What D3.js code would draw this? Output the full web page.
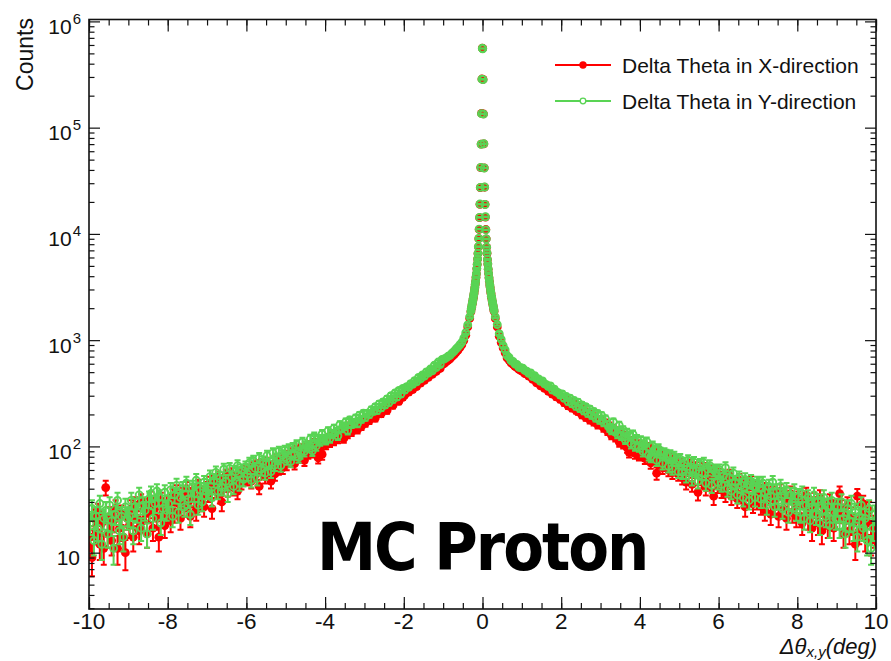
<!DOCTYPE html>
<html><head><meta charset="utf-8">
<script src="https://cdn.jsdelivr.net/npm/d3@7"></script>
<style>body{margin:0;background:#fff;} svg{display:block;}</style>
</head><body>
<svg id="chart" width="891" height="661"></svg>
<script>
// ---- binning (categories) ----
const xMin = -10, xMax = 10;
const tailBinWidth = 0.05, coreBinWidth = 0.01, coreLimit = 0.3;
const yMin = 2.95, yMax = 1.042e6;

const seriesNames = ["Delta Theta in X-direction", "Delta Theta in Y-direction"];
const seriesColors = ["#ff0000", "#59d454"];

// ---- Delta Theta in X-direction (red) ----
const xLeftTail = [
 14, 9, 21, 16, 24, 12, 19, 11, 41, 15, 22, 13, 20, 26, 11, 17, 23, 14, 10, 21,
 18, 26, 14, 28, 21, 16, 30, 20, 27, 15, 24, 32, 17, 28, 21, 14, 31, 24, 18, 29,
 26, 20, 34, 24, 37, 29, 21, 35, 27, 40, 30, 22, 38, 33, 25, 42, 30, 36, 27, 40,
 36, 45, 26, 47, 39, 51, 35, 30, 44, 53, 40, 49, 55, 41, 50, 38, 56, 46, 52, 58,
 50, 60, 47, 63, 54, 66, 42, 68, 57, 52, 70, 59, 47, 64, 55, 74, 62, 77, 63, 79,
 68, 82, 73, 87, 69, 92, 79, 95, 84, 74, 99, 86, 102, 88, 107, 93, 78, 97, 84, 112,
 104, 120, 109, 128, 113, 133, 118, 139, 128, 119, 147, 131, 155, 137, 162, 158, 144, 172, 155, 180,
 166, 188, 176, 195, 201, 185, 213, 219, 203, 232, 236, 218, 252, 256, 243, 274, 280, 265, 302, 290,
 305, 329, 324, 356, 343, 378, 366, 397, 394, 426, 419, 455, 447, 484, 476, 515, 507, 556, 541, 592,
 600, 626, 645, 668, 700, 726, 765, 800, 850, 905, 990, 1115, 1330, 1600
];
const xCore = [
 1850, 1970, 2040, 2150, 2250, 2360, 2480, 2600, 2750, 2930, 3120, 3340, 3570, 3890, 4210,
 4690, 5160, 5800, 6540, 7550, 9010, 11000, 14200, 19000, 27300, 42100, 70100, 136000, 287000, 561000,
 556000, 284000, 134500, 70300, 41900, 27500, 19000, 14400, 11000, 8990, 7480, 6590, 5740, 5200, 4650,
 4240, 3860, 3580, 3310, 3130, 2910, 2760, 2590, 2480, 2350, 2250, 2140, 2050, 1950, 1870
];
const xRightTail = [
 1600, 1330, 1090, 950, 845, 760, 680, 650, 612, 590, 566, 552, 530, 516,
 506, 484, 480, 458, 453, 428, 432, 396, 408, 372, 385, 352, 362, 330, 344, 310, 325, 292, 305, 277,
 290, 258, 279, 241, 266, 229, 252, 219, 213, 236, 198, 222, 188, 209, 178, 200, 170, 189, 160, 178,
 178, 150, 166, 140, 155, 128, 148, 122, 139, 110, 132, 106, 126, 97, 88, 92, 112, 86, 104, 83,
 84, 103, 77, 92, 98, 70, 89, 76, 56, 89, 71, 63, 83, 67, 60, 78, 57, 74, 61, 55,
 69, 51, 64, 46, 62, 67, 44, 58, 63, 37, 57, 47, 62, 41, 55, 45, 59, 34, 52, 43,
 54, 39, 50, 36, 48, 53, 34, 46, 38, 32, 48, 35, 44, 27, 42, 33, 46, 29, 40, 31,
 41, 28, 37, 25, 39, 34, 23, 36, 27, 33, 22, 38, 26, 33, 21, 31, 36, 24, 30, 22,
 32, 22, 19, 28, 35, 21, 27, 17, 31, 24, 19, 33, 16, 27, 22, 18, 30, 21, 17, 26,
 24, 36, 26, 15, 20, 28, 16, 22, 19, 12, 34, 16, 21, 29, 14, 19, 25, 13, 18, 15
];

// ---- Delta Theta in Y-direction (green) ----
const yLeftTail = [
 19, 26, 13, 22, 17, 29, 12, 21, 25, 15, 28, 20, 11, 23, 31, 16, 22, 14, 27, 21,
 22, 31, 16, 27, 24, 35, 17, 28, 25, 15, 32, 36, 21, 29, 38, 33, 19, 26, 37, 25,
 29, 39, 22, 35, 43, 24, 33, 40, 27, 45, 32, 23, 41, 36, 48, 28, 39, 30, 46, 38,
 39, 52, 33, 48, 57, 38, 50, 41, 61, 47, 36, 62, 51, 42, 58, 66, 45, 60, 49, 64,
 55, 70, 48, 73, 62, 50, 78, 61, 72, 56, 82, 69, 58, 87, 67, 77, 90, 66, 83, 92,
 76, 95, 72, 98, 84, 104, 79, 86, 110, 90, 102, 99, 118, 91, 124, 101, 117, 112, 131, 118,
 115, 140, 119, 131, 148, 137, 126, 160, 148, 155, 170, 141, 177, 162, 168, 185, 164, 197, 180, 205,
 188, 205, 200, 221, 214, 236, 218, 251, 231, 262, 245, 280, 259, 300, 276, 318, 291, 336, 310, 352,
 338, 365, 360, 389, 384, 416, 405, 446, 432, 470, 458, 503, 489, 535, 515, 580, 552, 622, 590, 660,
 665, 680, 705, 720, 755, 785, 825, 860, 905, 955, 1045, 1175, 1390, 1660
];
const yCore = [
 1880, 1990, 2060, 2180, 2260, 2390, 2490, 2640, 2770, 2960, 3140, 3360, 3590, 3920, 4230,
 4720, 5180, 5830, 6570, 7580, 9050, 11100, 14300, 19100, 27400, 42300, 69800, 135500, 286000, 558000,
 553000, 283000, 134000, 70600, 41700, 27600, 18900, 14500, 10900, 8960, 7520, 6620, 5770, 5230, 4680,
 4260, 3880, 3610, 3330, 3160, 2930, 2790, 2610, 2510, 2370, 2280, 2160, 2080, 1970, 1900
];
const yRightTail = [
 1655, 1402, 1150, 1018, 889, 808, 716, 688, 641, 630, 596, 590, 556, 550,
 545, 520, 511, 487, 492, 455, 463, 436, 431, 409, 413, 388, 381, 366, 371, 339, 346, 326, 320, 304,
 312, 284, 296, 264, 285, 252, 271, 238, 261, 227, 246, 216, 236, 205, 225, 196, 213, 185, 204, 177,
 196, 168, 182, 161, 150, 142, 170, 140, 131, 158, 126, 143, 116, 135, 127, 106, 130, 101, 117, 99,
 114, 90, 104, 111, 83, 80, 101, 93, 74, 95, 88, 69, 87, 84, 65, 83, 62, 80, 74, 58,
 76, 57, 70, 53, 74, 61, 50, 71, 59, 47, 68, 56, 70, 45, 61, 66, 43, 60, 57, 46,
 60, 44, 53, 63, 40, 51, 38, 56, 46, 35, 51, 43, 33, 49, 44, 31, 47, 42, 33, 45,
 44, 32, 45, 37, 28, 42, 34, 46, 27, 38, 31, 42, 26, 35, 39, 24, 35, 30, 38, 25,
 34, 24, 36, 21, 28, 33, 20, 27, 35, 23, 30, 19, 28, 33, 22, 27, 18, 31, 24, 21,
 27, 18, 30, 21, 15, 26, 20, 29, 17, 24, 14, 22, 28, 17, 21, 13, 26, 11, 17, 23
];

const xTickValues = [-10, -8, -6, -4, -2, 0, 2, 4, 6, 8, 10];
const xTickLabels = ["-10", "-8", "-6", "-4", "-2", "0", "2", "4", "6", "8", "10"];
const yTickExponents = [1, 2, 3, 4, 5, 6];
const xAxisTitle = {main: "\u0394\u03b8", sub: "x,y", tail: "(deg)"};
const yAxisTitle = "Counts";
const annotation = "MC Proton";

// ---- bin centres ----
const nTail = Math.round((xMax - coreLimit) / tailBinWidth);
const nCore = Math.round(2 * coreLimit / coreBinWidth);
const centers = [];
for (let i = 0; i < nTail; i++) centers.push(xMin + tailBinWidth * (i + 0.5));
for (let i = 0; i < nCore; i++) centers.push(-coreLimit + coreBinWidth * (i + 0.5));
for (let i = 0; i < nTail; i++) centers.push(coreLimit + tailBinWidth * (i + 0.5));

const series = [
  {name: seriesNames[0], color: seriesColors[0], counts: xLeftTail.concat(xCore, xRightTail), filled: true},
  {name: seriesNames[1], color: seriesColors[1], counts: yLeftTail.concat(yCore, yRightTail), filled: false}
];

// ---- layout ----
const W = 891, H = 661;
const P = {left: 89, right: 876, top: 19.5, bottom: 609};
const FONT = "'Liberation Sans', Arial, Helvetica, sans-serif";
const svg = d3.select("#chart");
svg.append("rect").attr("width", W).attr("height", H).attr("fill", "#fff");

const x = d3.scaleLinear().domain([xMin, xMax]).range([P.left, P.right]);
const y = d3.scaleLog().domain([yMin, yMax]).range([P.bottom, P.top]);

svg.append("clipPath").attr("id", "clip").append("rect")
  .attr("x", P.left).attr("y", P.top).attr("width", P.right - P.left).attr("height", P.bottom - P.top);

const plotG = svg.append("g").attr("clip-path", "url(#clip)");
const cap = 3;
series.forEach(s => {
  const pts = centers.map((c, i) => ({x: c, v: s.counts[i]})).filter(d => d.v > 0);
  const g = plotG.append("g");
  const p = d3.path();
  pts.forEach(d => {
    const e = Math.sqrt(d.v);
    const px = x(d.x);
    const y1 = y(d.v + e), y0 = y(Math.max(d.v - e, yMin * 0.5));
    p.moveTo(px, y0); p.lineTo(px, y1);
    p.moveTo(px - cap, y1); p.lineTo(px + cap, y1);
    p.moveTo(px - cap, y0); p.lineTo(px + cap, y0);
  });
  g.append("path").attr("d", p.toString()).attr("fill", "none")
    .attr("stroke", s.color).attr("stroke-width", 2);
  g.selectAll("circle").data(pts).join("circle")
    .attr("cx", d => x(d.x)).attr("cy", d => y(d.v))
    .attr("r", s.filled ? 4.4 : 3.5)
    .attr("fill", s.filled ? s.color : "none")
    .attr("stroke", s.filled ? "none" : s.color)
    .attr("stroke-width", 1.9);
});

// ---- axes ----
const axisColor = "#111";
const xMinor = d3.range(xMin, xMax + 0.001, 0.5);
const yMinor = [];
for (let e = 0; e <= 6; e++) for (let m = 2; m <= 9; m++) { const v = m * Math.pow(10, e); if (v >= yMin && v <= yMax) yMinor.push(v); }
const yMajor = yTickExponents.map(e => Math.pow(10, e));

function styleAxis(g) {
  g.select(".domain").remove();
  g.selectAll("text").remove();
  g.selectAll("line").attr("stroke", axisColor).attr("stroke-width", 1.2);
}
svg.append("g").attr("transform", `translate(0,${P.bottom})`)
  .call(d3.axisBottom(x).tickValues(xTickValues).tickSize(-12).tickSizeOuter(0)).call(styleAxis);
svg.append("g").attr("transform", `translate(0,${P.bottom})`)
  .call(d3.axisBottom(x).tickValues(xMinor).tickSize(-6).tickSizeOuter(0)).call(styleAxis);
svg.append("g").attr("transform", `translate(0,${P.top})`)
  .call(d3.axisTop(x).tickValues(xTickValues).tickSize(-12).tickSizeOuter(0)).call(styleAxis);
svg.append("g").attr("transform", `translate(0,${P.top})`)
  .call(d3.axisTop(x).tickValues(xMinor).tickSize(-6).tickSizeOuter(0)).call(styleAxis);
svg.append("g").attr("transform", `translate(${P.left},0)`)
  .call(d3.axisLeft(y).tickValues(yMajor).tickSize(-11).tickSizeOuter(0)).call(styleAxis);
svg.append("g").attr("transform", `translate(${P.left},0)`)
  .call(d3.axisLeft(y).tickValues(yMinor).tickSize(-5.5).tickSizeOuter(0)).call(styleAxis);
svg.append("g").attr("transform", `translate(${P.right},0)`)
  .call(d3.axisRight(y).tickValues(yMajor).tickSize(-11).tickSizeOuter(0)).call(styleAxis);
svg.append("g").attr("transform", `translate(${P.right},0)`)
  .call(d3.axisRight(y).tickValues(yMinor).tickSize(-5.5).tickSizeOuter(0)).call(styleAxis);

svg.append("rect").attr("x", P.left).attr("y", P.top)
  .attr("width", P.right - P.left).attr("height", P.bottom - P.top)
  .attr("fill", "none").attr("stroke", axisColor).attr("stroke-width", 1.6);

// x tick labels
svg.append("g").selectAll("text").data(xTickValues).join("text")
  .attr("x", d => x(d)).attr("y", 629)
  .attr("text-anchor", "middle").attr("font-family", FONT).attr("font-size", 22.5)
  .attr("fill", "#111").text((d, i) => xTickLabels[i]);

// y tick labels
const yl = svg.append("g");
yTickExponents.forEach(e => {
  const t = yl.append("text").attr("x", e === 1 ? 80 : 81).attr("y", y(Math.pow(10, e)) + 12.5)
    .attr("text-anchor", "end").attr("font-family", FONT).attr("fill", "#111");
  t.append("tspan").attr("font-size", 21).text("10");
  if (e !== 1) {
    t.append("tspan").attr("font-size", 15).attr("dy", -10).attr("dx", 1).text(String(e));
  }
});

// axis titles
const xt = svg.append("text").attr("x", 877).attr("y", 654).attr("text-anchor", "end")
  .attr("font-family", FONT).attr("font-style", "italic").attr("fill", "#111");
xt.append("tspan").attr("font-size", 22).text(xAxisTitle.main);
xt.append("tspan").attr("font-size", 15).attr("dy", 3).text(xAxisTitle.sub);
xt.append("tspan").attr("font-size", 22).attr("dy", -3).text(xAxisTitle.tail);

svg.append("text").attr("transform", "translate(33,18) rotate(-90)")
  .attr("text-anchor", "end").attr("font-family", FONT).attr("font-size", 23)
  .attr("fill", "#111").text(yAxisTitle);

// legend
const legRows = [65, 101];
series.forEach((s, i) => {
  const ly = legRows[i];
  svg.append("line").attr("x1", 555).attr("x2", 611).attr("y1", ly).attr("y2", ly)
    .attr("stroke", s.color).attr("stroke-width", 2);
  svg.append("circle").attr("cx", 583).attr("cy", ly).attr("r", s.filled ? 3.7 : 2.8)
    .attr("fill", s.filled ? s.color : "#fff").attr("stroke", s.filled ? "none" : s.color)
    .attr("stroke-width", 1.3);
  svg.append("text").attr("x", 622).attr("y", ly + 7.8)
    .attr("font-family", FONT).attr("font-size", 21).attr("fill", "#111").text(s.name);
});

// annotation
svg.append("text").attr("x", 317).attr("y", 570)
  .attr("font-family", "'DejaVu Sans Condensed', 'DejaVu Sans', sans-serif")
  .attr("font-stretch", "condensed").attr("font-weight", "bold")
  .attr("font-size", 66).attr("letter-spacing", -2).attr("fill", "#000").text(annotation);
</script>
</body></html>
